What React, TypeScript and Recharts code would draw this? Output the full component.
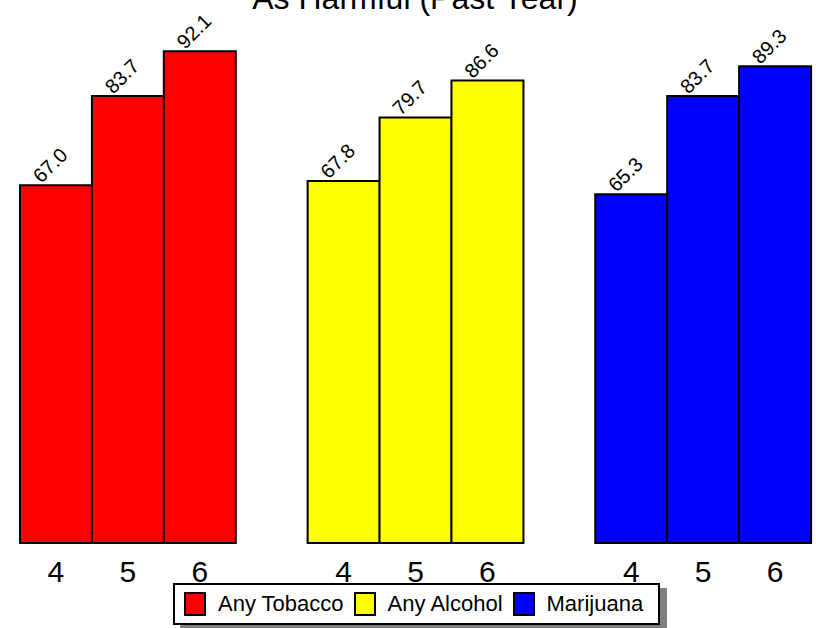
import { Bar, BarChart, Cell, LabelList, Legend, XAxis, YAxis } from "recharts";

const substances = ["Any Tobacco", "Any Alcohol", "Marijuana"];
const substanceColors = ["#ff0000", "#ffff00", "#0000ff"];
const grades = ["4", "5", "6"];
const tobaccoValues = [67.0, 83.7, 92.1];
const alcoholValues = [67.8, 79.7, 86.6];
const marijuanaValues = [65.3, 83.7, 89.3];
const titleText = "As Harmful (Past Year)";

const FONT = '"Liberation Sans", Arial, sans-serif';

type Row = { key: string; grade: string; value: number | null; color: string };

const seriesValues = [tobaccoValues, alcoholValues, marijuanaValues];
const rows: Row[] = [];
seriesValues.forEach((vals, s) => {
  if (s > 0) rows.push({ key: `gap${s}`, grade: "", value: null, color: "none" });
  vals.forEach((v, g) => {
    rows.push({ key: `${s}-${g}`, grade: grades[g], value: v, color: substanceColors[s] });
  });
});

function RotatedLabel(props: any) {
  const { x, y, width, value } = props;
  if (value == null) return null;
  const cx = x + width / 2 - 1;
  const cy = y - 15;
  return (
    <text
      x={cx}
      y={cy}
      transform={`rotate(-45 ${cx} ${cy})`}
      textAnchor="middle"
      fontSize={20}
      fontFamily={FONT}
      fill="#000"
    >
      {Number(value).toFixed(1)}
    </text>
  );
}

function LegendBox() {
  return (
    <div
      style={{
        width: 474,
        height: 38,
        border: "2px solid #000",
        background: "#fff",
        boxShadow: "7px 5px 0 #808080",
        display: "flex",
        alignItems: "center",
        paddingLeft: 9,
        boxSizing: "content-box",
        fontFamily: FONT,
        fontSize: 22,
        color: "#000",
      }}
    >
      {substances.map((name, i) => (
        <div key={name} style={{ display: "flex", alignItems: "center", marginRight: 10 }}>
          <span
            style={{
              width: 18,
              height: 20,
              border: "2px solid #000",
              background: substanceColors[i],
              marginRight: 12,
              display: "inline-block",
            }}
          />
          <span>{name}</span>
        </div>
      ))}
    </div>
  );
}

export default function App() {
  return (
    <div style={{ position: "absolute", left: 0, top: 0, width: 816, height: 628, overflow: "hidden", background: "#fff" }}>
      <div
        style={{
          position: "absolute",
          top: -18,
          left: 0,
          width: 830,
          textAlign: "center",
          fontFamily: FONT,
          fontSize: 32,
          lineHeight: "32px",
          color: "#000",
        }}
      >
        {titleText}
      </div>
      <BarChart
        width={816}
        height={628}
        data={rows}
        margin={{ top: 9, right: 5, bottom: 45, left: 20 }}
        barCategoryGap={0}
        barGap={0}
      >
        <XAxis
          dataKey="key"
          tickFormatter={(k: string) => rows.find((r) => r.key === k)?.grade ?? ""}
          axisLine={false}
          tickLine={false}
          tickSize={0}
          tickMargin={18}
          height={40}
          interval={0}
          tick={{ fontSize: 30, fill: "#000", fontFamily: FONT }}
        />
        <YAxis hide domain={[0, 100]} />
        <Legend
          layout="horizontal"
          verticalAlign="middle"
          align="center"
          wrapperStyle={{ left: 173, top: 583, width: 500, height: 45 }}
          content={() => <LegendBox />}
        />
        <Bar dataKey="value" stroke="#000" strokeWidth={2} isAnimationActive={false}>
          {rows.map((r) => (
            <Cell key={r.key} fill={r.color} />
          ))}
          <LabelList dataKey="value" content={RotatedLabel} />
        </Bar>
      </BarChart>
    </div>
  );
}
